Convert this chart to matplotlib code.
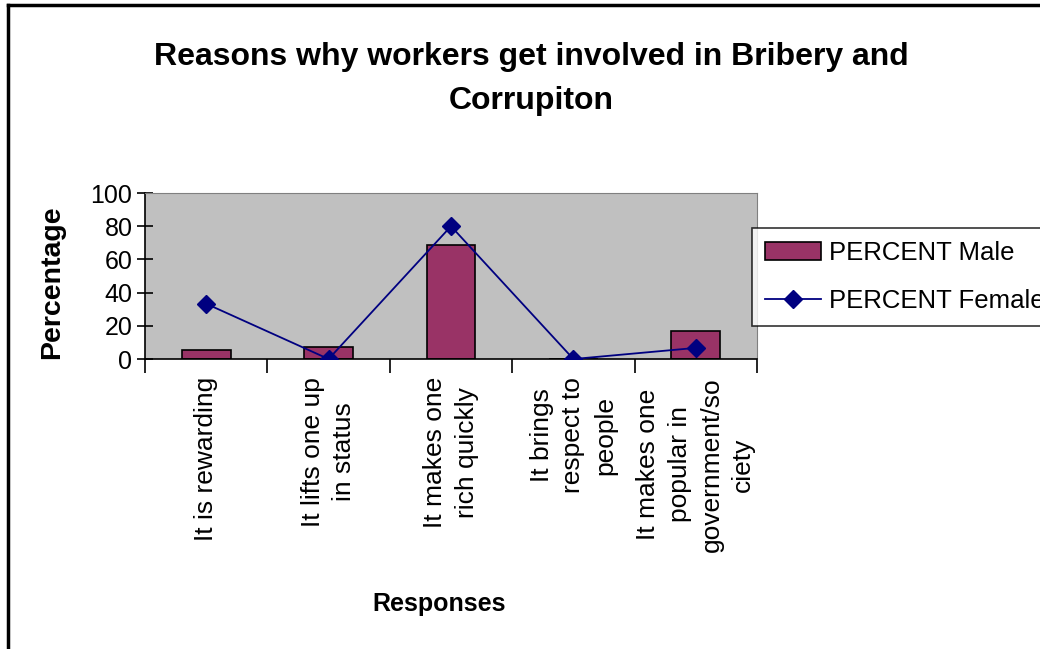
import numpy as np
import matplotlib
matplotlib.use("Agg")
import matplotlib.pyplot as plt
from matplotlib.lines import Line2D

plt.rcParams['font.family'] = ['Liberation Sans', 'DejaVu Sans']

categories = [
    "It is rewarding",
    "It lifts one up\nin status",
    "It makes one\nrich quickly",
    "It brings\nrespect to\npeople",
    "It makes one\npopular in\ngovernment/so\nciety",
]
male = [5.6, 7.1, 68.5, 0, 16.7]
female = [33.3, 0, 80.0, 0, 6.7]

fig = plt.figure(figsize=(10.4, 6.49), dpi=100)
ax = fig.add_axes([0.1394, 0.4468, 0.5885, 0.2558])
ax.set_facecolor('#C0C0C0')

x = np.arange(len(categories))
bars = ax.bar(x, male, width=0.4, color='#993366', edgecolor='black', linewidth=1.2,
              label='PERCENT Male', zorder=2)
line, = ax.plot(x, female, color='#000080', marker='D', markersize=9, linewidth=1.3,
                label='PERCENT Female', zorder=3)

ax.set_xlim(-0.5, len(categories) - 0.5)
ax.set_ylim(0, 100)
ax.set_yticks([0, 20, 40, 60, 80, 100])
ax.tick_params(axis='y', direction='inout', length=12, width=1.2, labelsize=18, pad=3)

# category boundaries get the tick marks, labels sit at the centres
ax.set_xticks(np.arange(len(categories) + 1) - 0.5)
ax.set_xticklabels([])
ax.tick_params(axis='x', direction='out', length=10, width=1.2)
ax.set_xticks(x, minor=True)
ax.set_xticklabels(categories, minor=True, rotation=90, ha='center', va='top',
                   multialignment='center', fontsize=19, linespacing=1.4)
ax.tick_params(axis='x', which='minor', length=0, pad=13)

for s in ['top', 'right']:
    ax.spines[s].set_color('#808080')
    ax.spines[s].set_linewidth(0.8)
for s in ['left', 'bottom']:
    ax.spines[s].set_linewidth(1.2)

fig.text(52 / 1040, 1 - 282 / 649, 'Percentage', fontsize=20.5, fontweight='bold',
         rotation=90, ha='center', va='center')
fig.text(439 / 1040, 1 - 604 / 649, 'Responses', fontsize=18, fontweight='bold',
         ha='center', va='center')
fig.text(531 / 1040, 1 - 79 / 649, 'Reasons why workers get involved in Bribery and\nCorrupiton',
         fontsize=23, fontweight='bold', ha='center', va='center', linespacing=1.6)

leg = ax.legend([bars, line], ['PERCENT Male', 'PERCENT Female'],
                loc='upper left', bbox_to_anchor=(752 / 1040, 1 - 228 / 649),
                bbox_transform=fig.transFigure, fontsize=18.5,
                frameon=True, fancybox=False, edgecolor='black', handlelength=2.2,
                handletextpad=0.3, labelspacing=0.95, borderpad=0.5, borderaxespad=0)
leg.get_frame().set_linewidth(1.2)

# outer frame (cropped at right and bottom)
fig.add_artist(Line2D([8 / 1040, 8 / 1040], [0, 1 - 5 / 649], color='black', linewidth=2.5))
fig.add_artist(Line2D([8 / 1040, 1], [1 - 5 / 649, 1 - 5 / 649], color='black', linewidth=2.5))

fig.savefig('out.png', dpi=100)
